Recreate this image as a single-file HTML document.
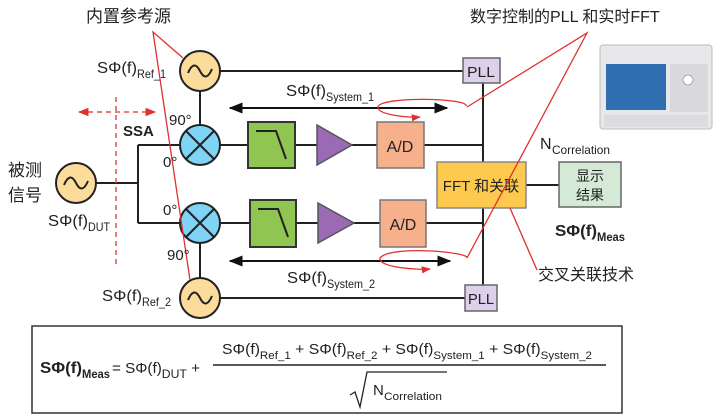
<!DOCTYPE html>
<html><head><meta charset="utf-8"><style>
body{margin:0;background:#fff}
svg{display:block}
text{font-family:"Liberation Sans","Noto Sans CJK SC",sans-serif;fill:#222}
</style></head><body>
<svg width="720" height="418" viewBox="0 0 720 418" xmlns="http://www.w3.org/2000/svg">
<defs>
<marker id="ab" viewBox="0 0 10 10" refX="9" refY="5" markerWidth="7" markerHeight="7" orient="auto-start-reverse"><path d="M0,1 L10,5 L0,9 z" fill="#111"/></marker>
<marker id="ar" viewBox="0 0 10 10" refX="9" refY="5" markerWidth="7" markerHeight="7" orient="auto-start-reverse"><path d="M0,1 L10,5 L0,9 z" fill="#e03030"/></marker>
</defs>
<g stroke="#222" stroke-width="2" fill="none">
<line x1="220" y1="71" x2="464" y2="71"/>
<line x1="200" y1="91" x2="200" y2="125"/>
<line x1="138" y1="145" x2="180" y2="145"/>
<line x1="138" y1="145" x2="138" y2="223"/>
<line x1="96" y1="183" x2="138" y2="183"/>
<line x1="138" y1="223" x2="180" y2="223"/>
<line x1="220" y1="145" x2="248" y2="145"/>
<line x1="295" y1="145" x2="317" y2="145"/>
<line x1="352" y1="145" x2="377" y2="145"/>
<line x1="424" y1="145" x2="483" y2="145"/>
<line x1="220" y1="223" x2="250" y2="223"/>
<line x1="296" y1="223" x2="318" y2="223"/>
<line x1="354" y1="223" x2="380" y2="223"/>
<line x1="426" y1="223" x2="483" y2="223"/>
<line x1="483" y1="83" x2="483" y2="285"/>
<line x1="200" y1="243" x2="200" y2="278"/>
<line x1="220" y1="298" x2="465" y2="298"/>
<line x1="526" y1="185" x2="559" y2="185"/>
</g>
<g stroke="#222" stroke-width="2" fill="#fbdc9a">
<circle cx="200" cy="71" r="20"/><circle cx="76" cy="183" r="20"/><circle cx="200" cy="298" r="20"/>
</g>
<g stroke="#222" stroke-width="2" fill="none">
<path d="M188,73 q6,-14 12,-2 q6,12 12,-2"/>
<path d="M64,185 q6,-14 12,-2 q6,12 12,-2"/>
<path d="M188,300 q6,-14 12,-2 q6,12 12,-2"/>
</g>
<g stroke="#222" stroke-width="2" fill="#7fd3f5">
<circle cx="200" cy="145" r="20"/><circle cx="200" cy="223" r="20"/>
</g>
<g stroke="#222" stroke-width="2">
<line x1="186" y1="131" x2="214" y2="159"/><line x1="214" y1="131" x2="186" y2="159"/>
<line x1="186" y1="209" x2="214" y2="237"/><line x1="214" y1="209" x2="186" y2="237"/>
</g>
<g stroke="#333" stroke-width="2">
<rect x="248" y="122" width="47" height="46" fill="#8fc550"/>
<rect x="250" y="200" width="46" height="47" fill="#8fc550"/>
</g>
<g stroke="#222" stroke-width="2" fill="none">
<path d="M256,131 h20 l10,28"/><path d="M258,209 h20 l10,28"/>
</g>
<path d="M317,125 L352,145 L317,165 z" fill="#9b6ab5" stroke="#555" stroke-width="1.5"/>
<path d="M318,203 L354,223 L318,243 z" fill="#9b6ab5" stroke="#555" stroke-width="1.5"/>
<rect x="377" y="122" width="47" height="46" fill="#f7b08c" stroke="#777" stroke-width="1.5"/>
<rect x="380" y="200" width="46" height="47" fill="#f7b08c" stroke="#777" stroke-width="1.5"/>
<text x="400" y="152" font-size="16" text-anchor="middle">A/D</text>
<text x="403" y="230" font-size="16" text-anchor="middle">A/D</text>
<rect x="463" y="58" width="37" height="25" fill="#ddd0ea" stroke="#666" stroke-width="1.5"/>
<rect x="465" y="285" width="32" height="26" fill="#ddd0ea" stroke="#666" stroke-width="1.5"/>
<text x="481" y="77" font-size="15" text-anchor="middle" textLength="28" lengthAdjust="spacingAndGlyphs">PLL</text>
<text x="481" y="304" font-size="15" text-anchor="middle" textLength="26" lengthAdjust="spacingAndGlyphs">PLL</text>
<rect x="437" y="162" width="89" height="46" fill="#fdc94e" stroke="#888" stroke-width="1.5"/>
<text x="481" y="191" font-size="15" text-anchor="middle">FFT 和关联</text>
<rect x="559" y="162" width="62" height="45" fill="#d5ead6" stroke="#666" stroke-width="1.5"/>
<text x="590" y="181" font-size="14" text-anchor="middle">显示</text>
<text x="590" y="200" font-size="14" text-anchor="middle">结果</text>
<rect x="600" y="45" width="112" height="84" rx="3" fill="#e8e8ea" stroke="#bbb"/>
<rect x="606" y="64" width="60" height="46" fill="#2f6fb0"/>
<rect x="670" y="64" width="38" height="48" fill="#d9d9dd"/>
<circle cx="688" cy="80" r="5" fill="#fff" stroke="#aaa"/>
<rect x="604" y="115" width="104" height="12" fill="#dcdcdf"/>
<line x1="230" y1="108" x2="447" y2="108" stroke="#111" stroke-width="2" marker-start="url(#ab)" marker-end="url(#ab)"/>
<line x1="230" y1="261" x2="450" y2="261" stroke="#111" stroke-width="2" marker-start="url(#ab)" marker-end="url(#ab)"/>
<line x1="116" y1="97" x2="116" y2="265" stroke="#e05050" stroke-width="1.5" stroke-dasharray="5,4"/>
<line x1="79" y1="112" x2="155" y2="112" stroke="#e05050" stroke-width="1.5" stroke-dasharray="5,4" marker-start="url(#ar)" marker-end="url(#ar)"/>
<g stroke="#e03030" stroke-width="1.3" fill="none">
<polyline points="183,58 153,32 190,280"/>
<polyline points="467,107 587,33 467,258"/>
<path d="M466,106 C470,98 380,96 378,107 C377,115 410,118 420,117" marker-end="url(#ar)"/>
<path d="M467,258 C470,252 390,245 380,258 C378,268 420,270 430,269" marker-end="url(#ar)"/>
<line x1="510" y1="208" x2="537" y2="270"/>
</g>
<text x="86" y="22" font-size="17">内置参考源</text>
<text x="470" y="22" font-size="16">数字控制的PLL  和实时FFT</text>
<text x="97" y="73" font-size="16" textLength="40" lengthAdjust="spacingAndGlyphs">SΦ(f)</text><text x="137" y="78" font-size="12" textLength="29" lengthAdjust="spacingAndGlyphs">Ref_1</text>
<text x="102" y="301" font-size="16" textLength="40" lengthAdjust="spacingAndGlyphs">SΦ(f)</text><text x="142" y="306" font-size="12" textLength="29" lengthAdjust="spacingAndGlyphs">Ref_2</text>
<text x="48" y="226" font-size="16" textLength="40" lengthAdjust="spacingAndGlyphs">SΦ(f)</text><text x="88" y="231" font-size="12" textLength="22" lengthAdjust="spacingAndGlyphs">DUT</text>
<text x="286" y="96" font-size="16" textLength="40" lengthAdjust="spacingAndGlyphs">SΦ(f)</text><text x="326" y="101" font-size="12" textLength="48" lengthAdjust="spacingAndGlyphs">System_1</text>
<text x="287" y="283" font-size="16" textLength="40" lengthAdjust="spacingAndGlyphs">SΦ(f)</text><text x="327" y="288" font-size="12" textLength="48" lengthAdjust="spacingAndGlyphs">System_2</text>
<text x="540" y="149" font-size="16">N</text><text x="552" y="154" font-size="12" textLength="58" lengthAdjust="spacingAndGlyphs">Correlation</text>
<text x="555" y="236" font-size="16" font-weight="bold" textLength="42" lengthAdjust="spacingAndGlyphs">SΦ(f)</text><text x="597" y="241" font-size="12" font-weight="bold" textLength="28" lengthAdjust="spacingAndGlyphs">Meas</text>
<text x="8" y="176" font-size="17">被测</text>
<text x="8" y="201" font-size="17">信号</text>
<text x="123" y="136" font-size="15" font-weight="bold">SSA</text>
<text x="169" y="125" font-size="15">90°</text>
<text x="163" y="167" font-size="15">0°</text>
<text x="163" y="215" font-size="15">0°</text>
<text x="167" y="260" font-size="15">90°</text>
<text x="538" y="280" font-size="16">交叉关联技术</text>
<rect x="32" y="326" width="590" height="87" fill="#fff" stroke="#333" stroke-width="1.5"/>
<text x="40" y="373" font-size="16" font-weight="bold" textLength="42" lengthAdjust="spacingAndGlyphs">SΦ(f)</text><text x="82" y="378" font-size="12" font-weight="bold" textLength="28" lengthAdjust="spacingAndGlyphs">Meas</text>
<text x="112" y="373" font-size="15" textLength="88" lengthAdjust="spacingAndGlyphs">= SΦ(f)<tspan font-size="12" dy="5">DUT</tspan><tspan dy="-5"> +</tspan></text>
<text x="222" y="354" font-size="15" textLength="370" lengthAdjust="spacingAndGlyphs">SΦ(f)<tspan font-size="11" dy="5">Ref_1</tspan><tspan dy="-5"> + SΦ(f)</tspan><tspan font-size="11" dy="5">Ref_2</tspan><tspan dy="-5"> + SΦ(f)</tspan><tspan font-size="11" dy="5">System_1</tspan><tspan dy="-5"> + SΦ(f)</tspan><tspan font-size="11" dy="5">System_2</tspan></text>
<line x1="213" y1="365" x2="606" y2="365" stroke="#222" stroke-width="1.5"/>
<path d="M350,395 L355,392 L360,407 L367,372 L447,372" fill="none" stroke="#222" stroke-width="1.3"/>
<text x="373" y="395" font-size="15">N</text><text x="384" y="400" font-size="11" textLength="58" lengthAdjust="spacingAndGlyphs">Correlation</text>
</svg>
</body></html>
